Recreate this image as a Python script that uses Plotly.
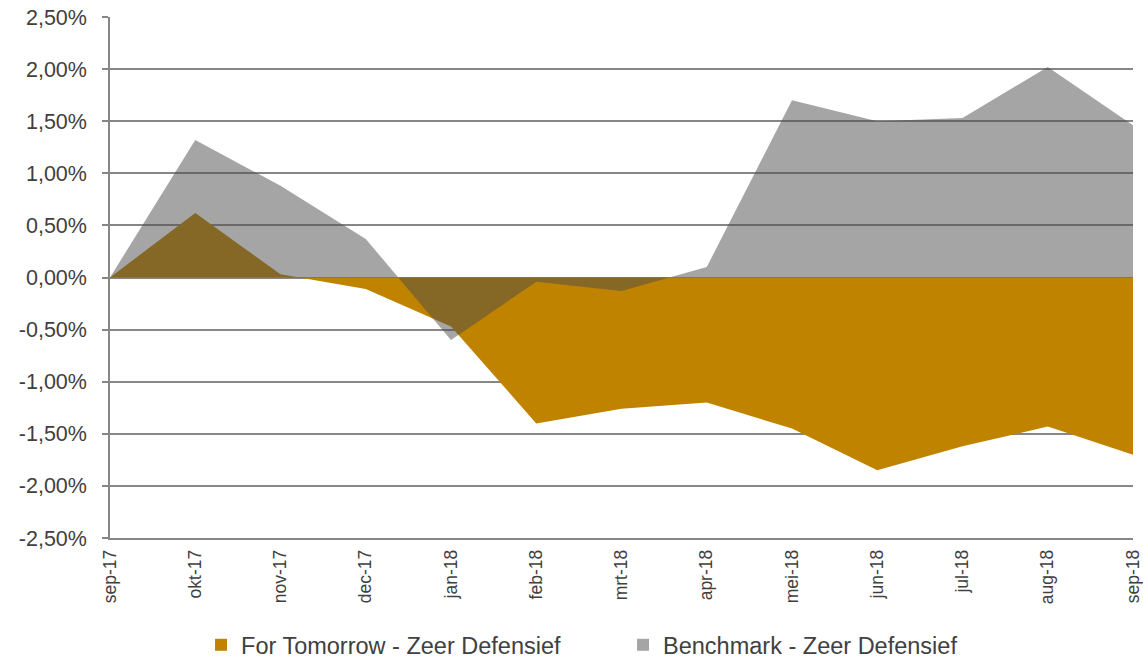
import plotly.graph_objects as go

categories = ["sep-17", "okt-17", "nov-17", "dec-17", "jan-18", "feb-18", "mrt-18",
              "apr-18", "mei-18", "jun-18", "jul-18", "aug-18", "sep-18"]
for_tomorrow = [0.00, 0.62, 0.03, -0.11, -0.47, -1.40, -1.26, -1.20, -1.45, -1.85, -1.62, -1.43, -1.70]
benchmark = [0.00, 1.32, 0.88, 0.37, -0.60, -0.04, -0.13, 0.10, 1.70, 1.50, 1.53, 2.02, 1.46]
y_ticks = [-2.5, -2.0, -1.5, -1.0, -0.5, 0.0, 0.5, 1.0, 1.5, 2.0, 2.5]
y_tick_labels = ["-2,50%", "-2,00%", "-1,50%", "-1,00%", "-0,50%", "0,00%",
                 "0,50%", "1,00%", "1,50%", "2,00%", "2,50%"]
names = ["For Tomorrow - Zeer Defensief", "Benchmark - Zeer Defensief"]

orange = "#BF8300"
gray_t = "rgba(76,76,76,0.5)"
gray_legend = "#A5A5A5"

x = list(range(len(categories)))

fig = go.Figure()
fig.add_trace(go.Scatter(
    x=x, y=for_tomorrow, name=names[0], showlegend=False,
    mode="lines", line=dict(width=0, color=orange),
    fill="tozeroy", fillcolor=orange))
fig.add_trace(go.Scatter(
    x=x, y=benchmark, name=names[1], showlegend=False,
    mode="lines", line=dict(width=0, color=gray_t),
    fill="tozeroy", fillcolor=gray_t))
# legend entries with square markers
for nm, col in zip(names, [orange, gray_legend]):
    fig.add_trace(go.Scatter(
        x=[None], y=[None], name=nm, mode="markers",
        marker=dict(symbol="square", size=13, color=col, line=dict(width=0))))

font_family = "Liberation Sans, Arial, sans-serif"
fig.update_layout(
    width=1143, height=659,
    margin=dict(l=110, r=10, t=17, b=121, autoexpand=False),
    paper_bgcolor="white", plot_bgcolor="white",
    font=dict(family=font_family, color="#404040"),
    showlegend=True,
    legend=dict(orientation="h", x=0.089, xanchor="left", y=-0.2054, yanchor="middle",
                font=dict(size=23.5, color="#404040"), itemwidth=30, tracegroupgap=0,
                entrywidth=377, entrywidthmode="pixels", itemsizing="constant"),
    xaxis=dict(range=[0, 12], tickmode="array", tickvals=x, ticktext=categories,
               tickangle=-90, tickfont=dict(size=17.5, color="#404040"),
               showgrid=False, zeroline=False, showline=True, linecolor="#868686",
               linewidth=1.5, ticks="", ticklabelstandoff=3, automargin=False),
    yaxis=dict(range=[-2.5, 2.5], tickmode="array", tickvals=y_ticks,
               ticktext=y_tick_labels, tickfont=dict(size=21.5, color="#404040"),
               showgrid=True, gridcolor="#868686", gridwidth=1.5, zeroline=False,
               showline=True, linecolor="#868686", linewidth=1.5,
               ticks="outside", ticklen=6, tickcolor="#868686", tickwidth=1.5,
               ticklabelstandoff=11, automargin=False),
)

fig.write_html("out.html", config={"displayModeBar": False},
               post_script="document.body.style.margin='0';document.body.style.overflow='hidden';")
